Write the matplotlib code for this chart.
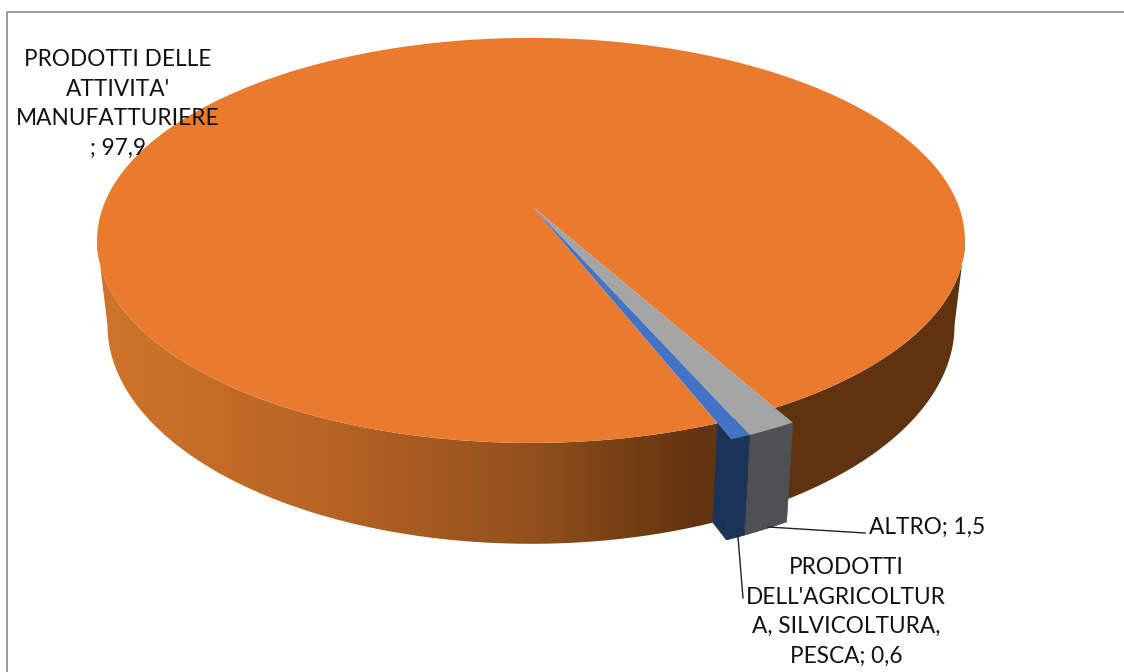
import numpy as np
from matplotlib import pyplot as plt
from matplotlib.colors import LinearSegmentedColormap
from matplotlib.patches import Polygon

# dati del grafico
labels = ["PRODOTTI\nDELL'AGRICOLTUR\nA, SILVICOLTURA,\nPESCA",
          "PRODOTTI DELLE\nATTIVITA'\nMANUFATTURIERE\n",
          "ALTRO"]
values = [0.6, 97.9, 1.5]

top_colors = ['#4472C4', '#E97A2E', '#A5A5A5']
side_colors = ['#1C3358', None, '#4F5052']

# prospettiva del disco (pixel)
CX, CY = 531, 207
APEX_X = 533
A, B, K = 428, 197, 0.165
DEPTH, SCALE_X, SCALE_Y = 82, 0.976, 1.08
START = 66.2
EXPLODE = 1.062

rim = LinearSegmentedColormap.from_list('rim', [
    (0.0, '#D0742B'), (0.25, '#B96524'), (0.5, '#92501D'),
    (0.68, '#64350F'), (0.8, '#5F3210'), (1.0, '#5F3210')])


def top(theta, r=1.0):
    t = np.radians(theta)
    c, s = r * np.cos(t), r * np.sin(t)
    d = 1 - K * s
    return CX + A * c / d, CY + B * s / d


def bottom(theta, r=1.0):
    x, y = top(theta, r)
    return CX + (x - CX) * SCALE_X, CY + DEPTH + (y - CY) * SCALE_Y


# angoli delle fette in senso orario, a partire dalla prima
sweep = np.array(values) / sum(values) * 360
starts = START + np.concatenate([[0], np.cumsum(sweep)[:-1]])
ends = starts + sweep

fig = plt.figure(figsize=(11.24, 6.72), dpi=100)
ax = fig.add_axes([0, 0, 1, 1])

# cornice: solo sinistra e alto
ax.plot([6.5, 6.5, 1124], [672, 11.5, 11.5], color='#8C8C8C', lw=1.2)

# parete laterale della fetta grande, sfumata da sinistra a destra
widest = np.degrees(np.arcsin(K))
a = np.linspace(widest, 180 - widest, 400)
xt, yt = top(a)
xb, yb = bottom(a)
side = Polygon(np.c_[np.r_[xt, xb[::-1]], np.r_[yt, yb[::-1]]], transform=ax.transData, fc='none', ec='none')
ax.add_patch(side)
grad = np.linspace(0, 1, 868).reshape(1, -1)
img = ax.imshow(grad, cmap=rim, extent=(97, 965, 672, 0), aspect='auto', zorder=1)
img.set_clip_path(side)

ax.set_xlim(0, 1124)
ax.set_ylim(672, 0)
ax.axis('off')

# faccia superiore della fetta grande
a = np.linspace(starts[1], ends[1], 500)
x, y = top(a)
ax.fill(np.r_[APEX_X, x], np.r_[CY, y], color=top_colors[1], lw=0, zorder=2)

# parete frontale delle fette staccate
for i in [2, 0]:
    a = np.linspace(starts[i], ends[i], 10)
    xt, yt = top(a, EXPLODE)
    xb, yb = bottom(a, EXPLODE)
    ax.fill(np.r_[xt, xb[::-1]], np.r_[yt, yb[::-1]], color=side_colors[i], lw=0.5, zorder=3)

# parete radiale della fetta blu verso la fetta arancione
xa, ya = top(ends[0], EXPLODE)
xc, yc = top(ends[0], 1.0)
xd, yd = bottom(ends[0], 1.0)
xe, ye = bottom(ends[0], EXPLODE)
ax.fill([xa, xc, xd, xe], [ya, yc, yd, ye], color=side_colors[0], lw=0.5, zorder=3)

# facce superiori delle fette staccate
for i in [2, 0]:
    a = np.linspace(starts[i], ends[i], 10)
    xt, yt = top(a, EXPLODE)
    ax.fill(np.r_[APEX_X, xt], np.r_[CY, yt], color=top_colors[i], lw=0, zorder=4)


# etichette
def lab(i):
    return labels[i] + '; ' + str(values[i]).replace('.', ',')


font = dict(family='Lato', fontsize=16.3, color='#111111', ha='center', va='center', linespacing=1.5, zorder=5)
ax.text(118, 104, lab(1), **font)
ax.text(846, 612, lab(0), **font)
ax.text(927, 527, lab(2), **font)

# linee guida
ax.plot([768, 865], [527, 533], color='#222222', lw=1, zorder=5)
ax.plot([738, 743], [537, 598], color='#222222', lw=1, zorder=5)

plt.savefig('out.png', dpi=100)
